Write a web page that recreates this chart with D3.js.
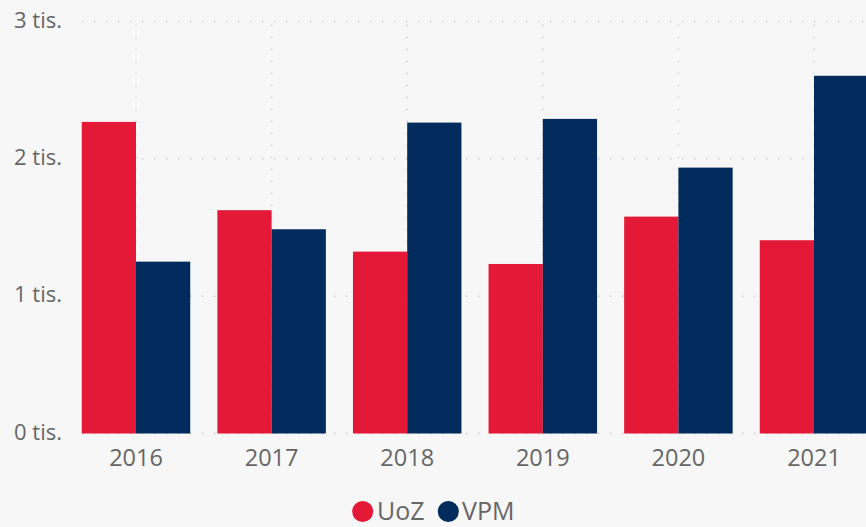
<!DOCTYPE html>
<html>
<head>
<meta charset="utf-8">
<script src="https://cdn.jsdelivr.net/npm/d3@7"></script>
<style>
  html, body { margin: 0; padding: 0; background: #f7f7f7; }
  svg { display: block; }
  text { font-family: "Open Sans", "Noto Sans", sans-serif; fill: #666666; }
</style>
</head>
<body>
<svg id="chart" width="866" height="527"></svg>
<script>
const years = ["2016", "2017", "2018", "2019", "2020", "2021"];
const seriesNames = ["UoZ", "VPM"];
const uozValues = [2270, 1627, 1325, 1235, 1580, 1408];
const vpmValues = [1252, 1488, 2265, 2292, 1937, 2606];
const yTickValues = [0, 1000, 2000, 3000];
const yTickLabels = ["0 tis.", "1 tis.", "2 tis.", "3 tis."];
const colors = ["#e31937", "#002b5c"];

const W = 866, H = 527;
const svg = d3.select("#chart");
svg.append("rect").attr("width", W).attr("height", H).attr("fill", "#f7f7f7");

const plotLeft = 82, plotRight = W, yTop = 21.7, yBottom = 433.5;

const x = d3.scaleBand().domain(years)
  .range([68.2, 68.2 + 6 * 135.6])
  .paddingInner(0.2).paddingOuter(0.1);
const xInner = d3.scaleBand().domain(seriesNames).range([0, x.bandwidth()]);
const y = d3.scaleLinear().domain([0, 3000]).range([yBottom, yTop]);

// horizontal grid
svg.append("g").selectAll("line").data(yTickValues).join("line")
  .attr("x1", plotLeft).attr("x2", plotRight)
  .attr("y1", d => y(d)).attr("y2", d => y(d))
  .attr("stroke", "#c4c4c4").attr("stroke-width", 1.3)
  .attr("stroke-dasharray", "1.3,10.7");

// vertical grid at category centers
svg.append("g").selectAll("line").data(years).join("line")
  .attr("x1", d => x(d) + x.bandwidth() / 2).attr("x2", d => x(d) + x.bandwidth() / 2)
  .attr("y1", y(3000) + 3).attr("y2", y(0))
  .attr("stroke", "#c4c4c4").attr("stroke-width", 1.3)
  .attr("stroke-dasharray", "1.3,10.7");

// bars
const rows = years.map((yr, i) => ({ year: yr, values: [uozValues[i], vpmValues[i]] }));
const groups = svg.append("g").selectAll("g").data(rows).join("g")
  .attr("transform", d => `translate(${x(d.year)},0)`);
groups.selectAll("rect").data(d => d.values.map((v, j) => ({ name: seriesNames[j], value: v, j })))
  .join("rect")
  .attr("x", d => xInner(d.name))
  .attr("width", xInner.bandwidth())
  .attr("y", d => y(d.value))
  .attr("height", d => y(0) - y(d.value))
  .attr("fill", d => colors[d.j]);

// y axis labels
const yAxis = d3.axisLeft(y).tickValues(yTickValues)
  .tickFormat((d, i) => yTickLabels[i]).tickSize(0).tickPadding(0);
const yg = svg.append("g").attr("transform", "translate(62,0)").call(yAxis);
yg.select(".domain").remove();
yg.selectAll("text").attr("font-size", 22).attr("fill", "#666666")
  .attr("font-family", "'Open Sans', sans-serif").attr("dy", "0.25em");

// x axis labels
const xAxis = d3.axisBottom(x).tickSize(0).tickPadding(0);
const xg = svg.append("g").attr("transform", `translate(0,${yBottom})`).call(xAxis);
xg.select(".domain").remove();
xg.selectAll("text").attr("font-size", 23.5).attr("fill", "#666666")
  .attr("font-family", "'Open Sans', sans-serif").attr("dy", null).attr("y", 32.5);

// legend
const legend = svg.append("g");
const legendItems = [
  { name: seriesNames[0], cx: 362.7, tx: 377 },
  { name: seriesNames[1], cx: 448.3, tx: 462 }
];
legendItems.forEach((it, i) => {
  legend.append("circle").attr("cx", it.cx).attr("cy", 511.5).attr("r", 10.5).attr("fill", colors[i]);
  legend.append("text").attr("x", it.tx).attr("y", 520).attr("font-size", 25).text(it.name);
});
</script>
</body>
</html>
